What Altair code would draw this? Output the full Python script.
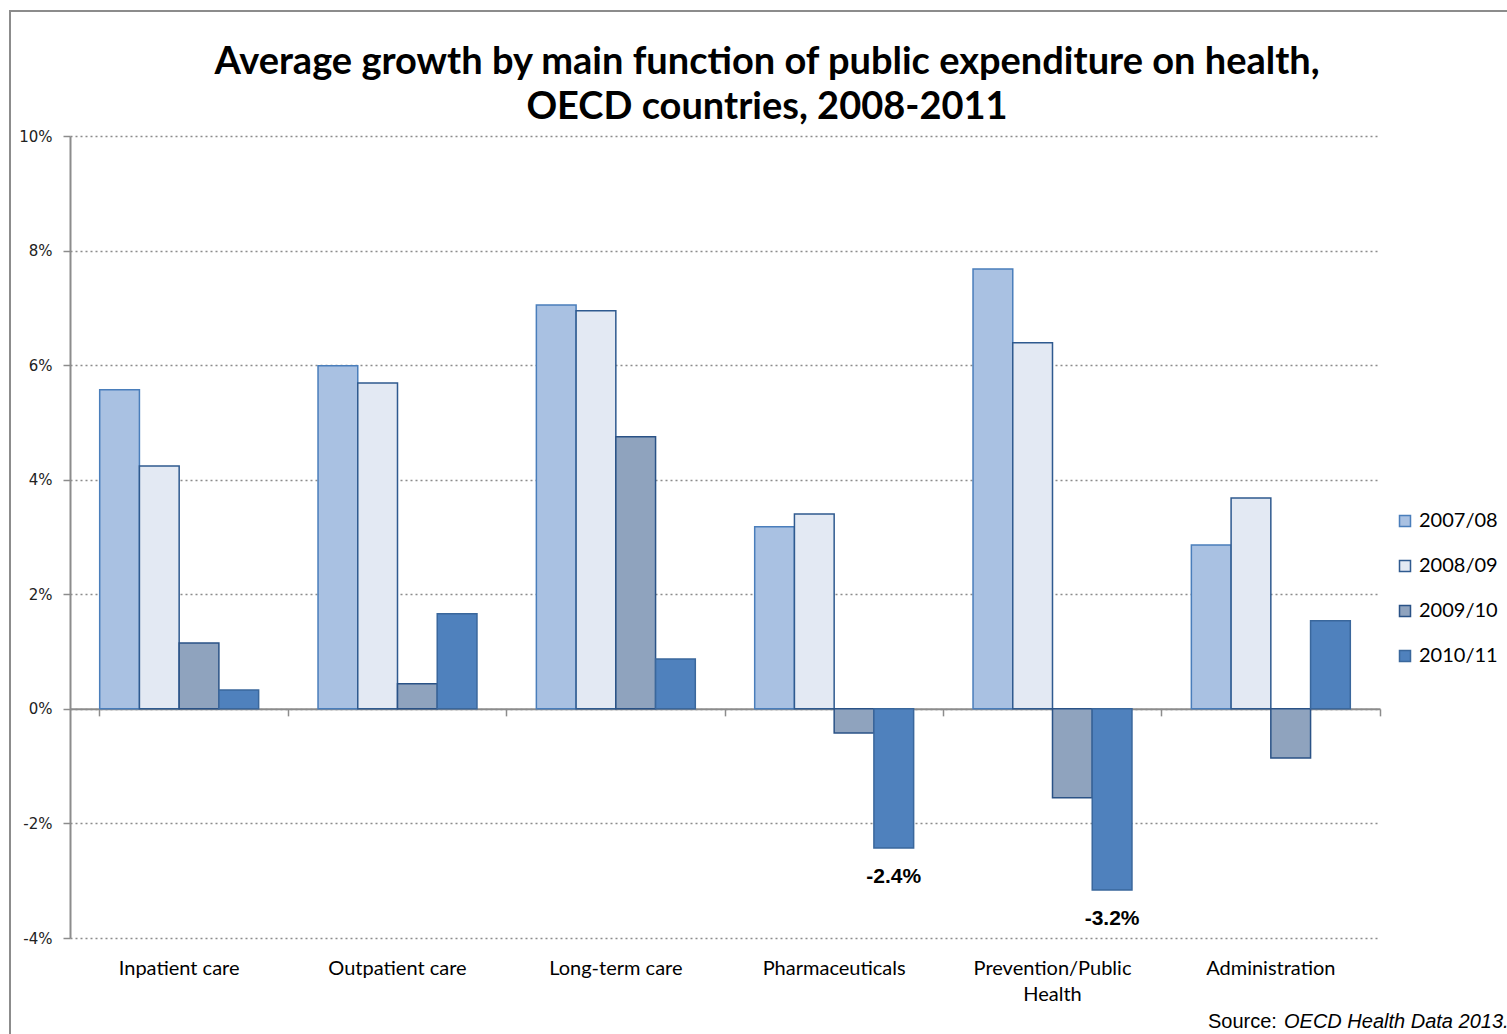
import altair as alt
import pandas as pd

categories = ["Inpatient care", "Outpatient care", "Long-term care",
              "Pharmaceuticals", "Prevention/Public Health", "Administration"]
periods = ["2007/08", "2008/09", "2009/10", "2010/11"]
g0708 = [5.57, 5.99, 7.05, 3.18, 7.68, 2.86]
g0809 = [4.24, 5.69, 6.95, 3.40, 6.39, 3.68]
g0910 = [1.15, 0.44, 4.75, -0.42, -1.55, -0.86]
g1011 = [0.33, 1.66, 0.87, -2.43, -3.16, 1.54]
y_ticks = [-4, -2, 0, 2, 4, 6, 8, 10]
title_line1 = ["Average growth by main function of public expenditure on health,"]
title_line2 = ["OECD countries, 2008-2011"]
source_prefix = ["Source:"]
source_body = ["OECD Health Data 2013."]

fills = ["#a9c1e2", "#e3e9f3", "#8fa3be", "#4f81bd"]
strokes = ["#4a7ebb", "#2f5a8f", "#2a5286", "#3a679c"]

rows = []
for p, series in zip(periods, [g0708, g0809, g0910, g1011]):
    for c, v in zip(categories, series):
        lab = f"{v:.1f}%" if (p == "2010/11" and v < -2) else ""
        rows.append({"category": c, "period": p, "value": v, "label": lab})
df = pd.DataFrame(rows)

W, H = 1310, 802
zero_off = -(H - H * 10 / 14)
p_in = 0.272
step = W / len(categories)
band_pos = 1 + (p_in * step / 2) / (step * (1 - p_in))

leg = alt.Legend(title=None, orient="none", legendX=1325, legendY=375,
                 symbolType="square", symbolSize=121, symbolStrokeWidth=1.5,
                 labelFont="Lato", labelFontSize=20, labelColor="black",
                 rowPadding=25, labelOffset=4)

x_enc = alt.X("category:N", sort=categories,
              scale=alt.Scale(paddingInner=p_in, paddingOuter=p_in / 2),
              axis=alt.Axis(title=None, orient="bottom", offset=zero_off,
                            domainColor="#8c8c8c", domainWidth=2,
                            tickColor="#8c8c8c", tickSize=7, tickWidth=1.5,
                            bandPosition=band_pos, tickExtra=True,
                            labelPadding=243,
                            labelFont="Lato", labelFontSize=20, labelColor="black",
                            labelAngle=0, labelLimit=0, labelLineHeight=26,
                            labelExpr="datum.label == 'Prevention/Public Health' ? ['Prevention/Public', 'Health'] : datum.label",
                            grid=False))
xo_enc = alt.XOffset("period:N", sort=periods,
                     scale=alt.Scale(paddingInner=0, paddingOuter=0))
y_enc = alt.Y("value:Q", scale=alt.Scale(domain=[-4, 10], nice=False),
              axis=alt.Axis(values=y_ticks, labelExpr="datum.value + '%'", title=None,
                            grid=True, gridDash=[2, 3], gridColor="#8c8c8c", gridWidth=1.3,
                            domainColor="#8c8c8c", domainWidth=2,
                            tickColor="#8c8c8c", tickSize=7, tickWidth=1.5,
                            labelFont="DejaVu Sans", labelFontSize=15, labelColor="#222222",
                            labelPadding=11))

bars = alt.Chart(df).mark_bar(strokeWidth=1.5).encode(
    x=x_enc, xOffset=xo_enc, y=y_enc,
    color=alt.Color("period:N", sort=periods, scale=alt.Scale(domain=periods, range=fills), legend=leg),
    stroke=alt.Stroke("period:N", sort=periods, scale=alt.Scale(domain=periods, range=strokes), legend=leg),
)

labels = alt.Chart(df).transform_filter("datum.label != ''").mark_text(
    font="Liberation Sans", fontWeight="bold", fontSize=21, dy=29, baseline="middle",
    color="black").encode(x=x_enc, xOffset=xo_enc, y=y_enc, text="label:N")

t1 = alt.Chart(pd.DataFrame({"t": title_line1})).mark_text(
    font="Lato", fontSize=38, fontWeight="bold", align="center", baseline="alphabetic",
    color="black").encode(x=alt.value(697), y=alt.value(-62), text="t:N")
t2 = alt.Chart(pd.DataFrame({"t": title_line2})).mark_text(
    font="Lato", fontSize=38, fontWeight="bold", align="center", baseline="alphabetic",
    color="black").encode(x=alt.value(697), y=alt.value(-17), text="t:N")

src1 = alt.Chart(pd.DataFrame({"t": source_prefix})).mark_text(
    font="Liberation Sans", fontSize=20, align="left", baseline="middle", color="black"
).encode(x=alt.value(1138), y=alt.value(886), text="t:N")
src2 = alt.Chart(pd.DataFrame({"t": source_body})).mark_text(
    font="Liberation Sans", fontSize=20, fontStyle="italic", align="left",
    baseline="middle", color="black"
).encode(x=alt.value(1214), y=alt.value(886), text="t:N")

frame = alt.Chart(pd.DataFrame({"t": [0]})).mark_rect(
    fillOpacity=0, stroke="#8c8c8c", strokeWidth=2
).encode(x=alt.value(-60), x2=alt.value(3000), y=alt.value(-125), y2=alt.value(3000))

chart = alt.layer(bars, labels, t1, t2, src1, src2, frame).properties(
    width=W, height=H,
    autosize=alt.AutoSizeParams(type="none"),
    padding={"left": 70, "top": 136, "right": 127, "bottom": 96},
).configure(background="white").configure_view(stroke=None)

chart.save("out.html", embed_options={"renderer": "svg", "actions": False})
